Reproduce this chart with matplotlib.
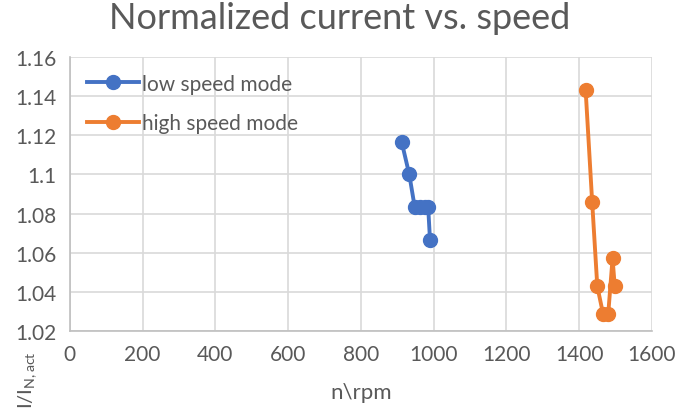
import matplotlib
matplotlib.use('Agg')
import matplotlib.pyplot as plt

# measured points: speed (rpm) and normalized current
lowSpeed = [912, 933, 948, 962, 975, 985, 990]
lowCurrent = [1.1167, 1.1, 1.0833, 1.0833, 1.0833, 1.0833, 1.0667]
highSpeed = [1418, 1436, 1450, 1466, 1480, 1492, 1498]
highCurrent = [1.1429, 1.0857, 1.0429, 1.0286, 1.0286, 1.0571, 1.0429]

xTicks = [0, 200, 400, 600, 800, 1000, 1200, 1400, 1600]
yTicks = [1.02, 1.04, 1.06, 1.08, 1.1, 1.12, 1.14, 1.16]
yTickLabels = ['1.02', '1.04', '1.06', '1.08', '1.1', '1.12', '1.14', '1.16']

TEXT = '#595959'
GRID = '#d9d9d9'
plt.rcParams['font.family'] = ['Lato', 'DejaVu Sans']

fig = plt.figure(figsize=(6.79, 4.14), dpi=100)
ax = fig.add_axes([0.103, 0.198, 0.857, 0.662])

ax.plot(lowSpeed, lowCurrent, '-o', color='#4472C4', lw=2.8, ms=10, label='low speed mode')
ax.plot(highSpeed, highCurrent, '-o', color='#ED7D31', lw=2.8, ms=10, label='high speed mode')

ax.set_xlim(0, 1600)
ax.set_ylim(1.02, 1.16)
ax.set_xticks(xTicks)
ax.set_yticks(yTicks)
ax.set_yticklabels(yTickLabels)
ax.tick_params(length=0, labelsize=15, colors=TEXT)
ax.tick_params(axis='x', pad=9)
ax.tick_params(axis='y', pad=10)
ax.grid(True, color=GRID, lw=1.2)
ax.set_axisbelow(True)
for side in ['top', 'right']:
    ax.spines[side].set_visible(False)
for side in ['left', 'bottom']:
    ax.spines[side].set_color('#bfbfbf')
    ax.spines[side].set_linewidth(1.2)

fig.suptitle('Normalized current vs. speed', x=0.5, y=0.995, va='top', fontsize=26, color=TEXT)
ax.set_xlabel('n\\rpm', fontsize=16, color=TEXT, labelpad=13)
fig.text(0.04, 0.152, r'I/I$_{\mathregular{N,act}}$', rotation=90, ha='center', va='top',
         fontsize=14.5, color=TEXT)

leg = ax.legend(loc='upper left', bbox_to_anchor=(0.0, 1.0), frameon=False, fontsize=15,
                handlelength=2.5, labelspacing=0.95, handletextpad=0.15, borderaxespad=0.4)
for t in leg.get_texts():
    t.set_color(TEXT)

fig.savefig('out.png', dpi=100)
